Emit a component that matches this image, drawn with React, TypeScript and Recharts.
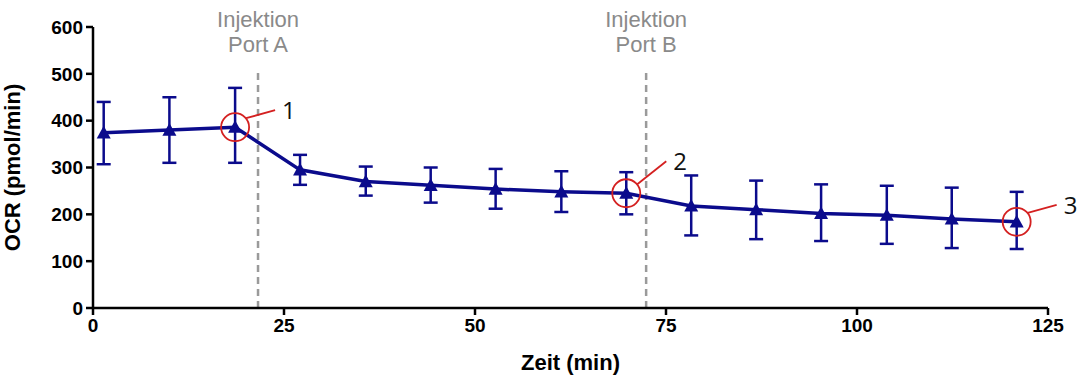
import React from 'react';
import {
  LineChart,
  Line,
  XAxis,
  YAxis,
  ErrorBar,
  ReferenceLine,
  ReferenceDot,
} from 'recharts';

// ---------------------------------------------------------------------------
// Data
// ---------------------------------------------------------------------------
const timeMin = [1.4, 10, 18.6, 27.1, 35.7, 44.2, 52.7, 61.3, 69.8, 78.3, 86.8, 95.3, 103.9, 112.4, 120.9];
const ocr = [374, 380, 386, 295, 270, 262, 254, 248, 245, 218, 210, 202, 198, 190, 184];
const upperBound = [440, 450, 470, 327, 302, 300, 297, 292, 290, 283, 272, 264, 261, 257, 248];
const lowerBound = [307, 310, 310, 263, 240, 225, 212, 205, 200, 155, 147, 143, 137, 128, 126];

const xTicks = [0, 25, 50, 75, 100, 125];
const yTicks = [0, 100, 200, 300, 400, 500, 600];

const injections = [
  { x: 21.6, lines: ['Injektion', 'Port A'] },
  { x: 72.4, lines: ['Injektion', 'Port B'] },
];
const injectionTop = 510;

// marked points: index into the series + label
const markedPoints = [
  { idx: 2, label: '1' },
  { idx: 8, label: '2' },
  { idx: 14, label: '3' },
];

const data = timeMin.map((t, i) => ({
  t,
  ocr: ocr[i],
  err: [ocr[i] - lowerBound[i], upperBound[i] - ocr[i]],
}));

const NAVY = '#0b0b8c';
const RED = '#d42020';
const GREY = '#8a8a8a';

// ---------------------------------------------------------------------------
// Custom shapes
// ---------------------------------------------------------------------------
const TriangleDot = (props: any) => {
  const { cx, cy, index } = props;
  if (cx == null || cy == null) return null;
  const s = 7;
  return (
    <path
      key={`tri-${index}`}
      d={`M${cx},${cy - s} L${cx + s},${cy + s * 0.8} L${cx - s},${cy + s * 0.8} Z`}
      fill={NAVY}
    />
  );
};

const makeMarker = (label: string, dy: number) => (props: any) => {
  const { cx, cy } = props;
  const r = 14;
  return (
    <g>
      <circle cx={cx} cy={cy} r={r} fill="none" stroke={RED} strokeWidth={1.8} />
      <line x1={cx + 11} y1={cy - 9} x2={cx + 40} y2={cy + dy + 8} stroke={RED} strokeWidth={1.8} />
      <text
        x={cx + 47}
        y={cy + dy + 17}
        fontSize={24}
        fontFamily="'Open Sans', 'Liberation Sans', sans-serif"
        fill="#111"
      >
        {label}
      </text>
    </g>
  );
};

const markerOffsets = [-25, -40, -25];

const makeInjectionLabel = (lines: string[]) => (props: any) => {
  const vb = props.viewBox || {};
  const x = vb.x ?? 0;
  const top = Math.min(vb.y ?? 0, (vb.y ?? 0) + (vb.height ?? 0));
  return (
    <g>
      {lines.map((ln, i) => (
        <text
          key={ln}
          x={x}
          y={top - 42 + i * 25}
          textAnchor="middle"
          fontSize={22}
          fontFamily="'Liberation Sans', Arial, sans-serif"
          fill={GREY}
        >
          {ln}
        </text>
      ))}
    </g>
  );
};

// ---------------------------------------------------------------------------
// Component
// ---------------------------------------------------------------------------
export default function App(): React.JSX.Element {
  const tickStyle = { fill: '#000', fontSize: 19, fontWeight: 700, fontFamily: "'Liberation Sans', Arial, sans-serif" };
  return (
    <div style={{ position: 'absolute', left: 0, top: 0, background: '#fff' }}>
      <LineChart width={1085} height={378} data={data} margin={{ top: 27, right: 37, bottom: 0, left: 0 }}>
        <XAxis
          dataKey="t"
          type="number"
          domain={[0, 125]}
          ticks={xTicks}
          height={70}
          tick={tickStyle}
          tickSize={7}
          tickMargin={4}
          stroke="#000"
          strokeWidth={2.5}
          label={{
            value: 'Zeit (min)',
            position: 'insideBottom',
            offset: 8,
            style: { fill: '#000', fontSize: 22, fontWeight: 700, fontFamily: "'Liberation Sans', Arial, sans-serif" },
          }}
        />
        <YAxis
          type="number"
          domain={[0, 600]}
          ticks={yTicks}
          width={93}
          tick={tickStyle}
          tickSize={7}
          tickMargin={3}
          stroke="#000"
          strokeWidth={2.5}
          label={{
            value: 'OCR (pmol/min)',
            angle: -90,
            position: 'insideLeft',
            offset: 12,
            style: { textAnchor: 'middle', fill: '#000', fontSize: 22, fontWeight: 700, fontFamily: "'Liberation Sans', Arial, sans-serif" },
          }}
        />
        {injections.map((inj) => (
          <ReferenceLine
            key={inj.x}
            segment={[{ x: inj.x, y: 0 }, { x: inj.x, y: injectionTop }]}
            stroke="#9a9a9a"
            strokeWidth={2.5}
            strokeDasharray="7 5"
            ifOverflow="visible"
            label={makeInjectionLabel(inj.lines)}
          />
        ))}
        <Line
          type="linear"
          dataKey="ocr"
          stroke={NAVY}
          strokeWidth={3.5}
          dot={<TriangleDot />}
          activeDot={false}
          isAnimationActive={false}
        >
          <ErrorBar dataKey="err" width={7} stroke={NAVY} strokeWidth={2.5} direction="y" />
        </Line>
        {markedPoints.map((m, i) => (
          <ReferenceDot
            key={m.label}
            x={timeMin[m.idx]}
            y={ocr[m.idx]}
            r={14}
            ifOverflow="visible"
            shape={makeMarker(m.label, markerOffsets[i])}
          />
        ))}
      </LineChart>
    </div>
  );
}
